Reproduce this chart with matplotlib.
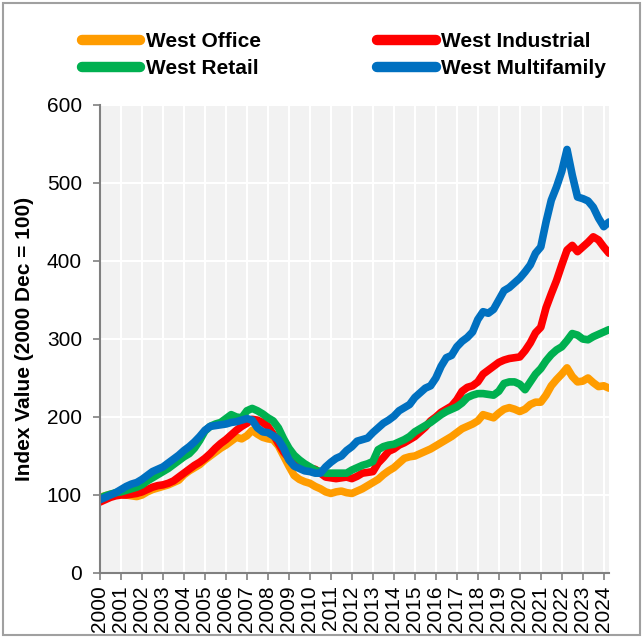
import numpy as np
import matplotlib.pyplot as plt
from matplotlib.patches import Rectangle

plt.rcParams['font.family'] = ['Liberation Sans', 'DejaVu Sans']

# quarterly index values, 2000 Q1 .. 2024 Q2
office = [97, 99, 101, 102, 101, 100, 99, 98, 100, 104, 107, 109,
          111, 113, 116, 119, 126, 131, 135, 139, 145, 150, 155, 160,
          164, 169, 174, 172, 176, 183, 178, 174, 172, 171, 163, 150,
          137, 125, 120, 117, 115, 111, 108, 104, 102, 104, 105, 103,
          102, 105, 108, 112, 116, 120, 126, 131, 135, 141, 147, 149,
          150, 153, 156, 159, 163, 167, 171, 175, 180, 185, 188, 191,
          195, 203, 201, 199, 205, 210, 212, 210, 207, 210, 216, 219,
          219, 228, 240, 248, 255, 263, 252, 245, 246, 250, 244, 239,
          240, 237]
industrial = [91, 94, 97, 99, 100, 100, 101, 102, 104, 107, 110, 112,
              113, 115, 118, 123, 128, 133, 138, 142, 147, 153, 160, 166,
              171, 177, 183, 188, 192, 197, 196, 193, 188, 178, 166, 155,
              147, 140, 137, 135, 134, 133, 128, 123, 122, 121, 122, 123,
              121, 124, 128, 129, 130, 141, 148, 156, 159, 164, 167, 171,
              175, 181, 187, 195, 200, 206, 210, 214, 222, 233, 238, 240,
              245, 255, 260, 265, 270, 273, 275, 276, 277, 285, 295, 308,
              315, 340, 358, 375, 395, 414, 420, 412, 418, 424, 431, 427,
              418, 410]
retail = [96, 99, 101, 103, 104, 106, 108, 110, 113, 118, 122, 126,
          130, 134, 139, 144, 149, 153, 160, 170, 182, 188, 191, 193,
          198, 203, 200, 199, 208, 211, 208, 204, 199, 195, 186, 172,
          160, 151, 145, 140, 136, 132, 130, 128, 128, 128, 128, 128,
          132, 135, 138, 140, 143, 158, 162, 164, 165, 168, 171, 175,
          181, 185, 189, 193, 198, 203, 207, 210, 213, 218, 225, 228,
          230, 230, 229, 228, 233, 243, 245, 245, 242, 235, 245, 255,
          262, 272, 280, 286, 290, 298, 307, 305, 300, 299, 303, 306,
          309, 312]
multifamily = [94, 97, 100, 103, 107, 111, 114, 116, 120, 125, 130, 133,
               136, 141, 146, 151, 157, 162, 168, 175, 183, 188, 189, 190,
               191, 193, 194, 196, 198, 196, 186, 181, 180, 176, 171, 160,
               145, 137, 134, 131, 130, 128, 128, 136, 142, 147, 150, 157,
               162, 169, 171, 173, 180, 186, 192, 196, 201, 208, 212, 216,
               225, 231, 237, 240, 250, 265, 276, 279, 290, 297, 302, 309,
               325, 335, 333, 338, 350, 362, 366, 372, 378, 386, 395, 410,
               418, 450, 478, 495, 515, 543, 510, 482, 480, 477, 469, 455,
               444, 450]
years = list(range(2000, 2025))

quarters = 2000 + np.arange(len(office)) / 4.0

fig = plt.figure(figsize=(6.44, 6.38), dpi=100)
ax = fig.add_axes([100 / 644, 65 / 638, 509 / 644, 468 / 638])
ax.set_facecolor('#F2F2F2')

lw = 5.5
ax.plot(quarters, office, color='#FF9C00', lw=lw, label='West Office', solid_capstyle='round')
ax.plot(quarters, industrial, color='#FF0000', lw=lw, label='West Industrial', solid_capstyle='round')
ax.plot(quarters, retail, color='#00B050', lw=lw, label='West Retail', solid_capstyle='round')
ax.plot(quarters, multifamily, color='#0070C0', lw=lw, label='West Multifamily', solid_capstyle='round')

ax.set_xlim(2000, quarters[-1])
ax.set_ylim(0, 600)
ax.set_yticks(range(0, 601, 100))
ax.set_xticks(years)
ax.set_xticklabels([str(y) for y in years], rotation=90, fontsize=15)
ax.tick_params(axis='y', labelsize=15, pad=8)
ax.tick_params(axis='x', pad=4)
ax.tick_params(colors='#808080', labelcolor='black', length=5, width=1.2)
ax.grid(True, color='white', lw=1.5)
ax.set_axisbelow(True)
for s in ['top', 'right']:
    ax.spines[s].set_visible(False)
for s in ['left', 'bottom']:
    ax.spines[s].set_color('#808080')
    ax.spines[s].set_linewidth(1.5)
ax.set_ylabel('Index Value (2000 Dec = 100)', fontsize=15, fontweight='bold', labelpad=9)

h, l = ax.get_legend_handles_labels()
order = [0, 2, 1, 3]
leg = fig.legend([h[i] for i in order], [l[i] for i in order], ncol=2, frameon=False,
                 loc='upper left', bbox_to_anchor=(82 / 644, 1 - 32 / 638),
                 prop={'weight': 'bold', 'size': 15}, handlelength=2.8, handletextpad=0.25,
                 columnspacing=5.6, labelspacing=0.4, borderaxespad=0, borderpad=0)
for line in leg.get_lines():
    line.set_linewidth(7.5)

fig.patches.append(Rectangle((3 / 644, 3 / 638), 637 / 644, 632 / 638, transform=fig.transFigure,
                             fill=False, edgecolor='#A0A0A0', lw=1.5))

fig.savefig('out.png', dpi=100)
